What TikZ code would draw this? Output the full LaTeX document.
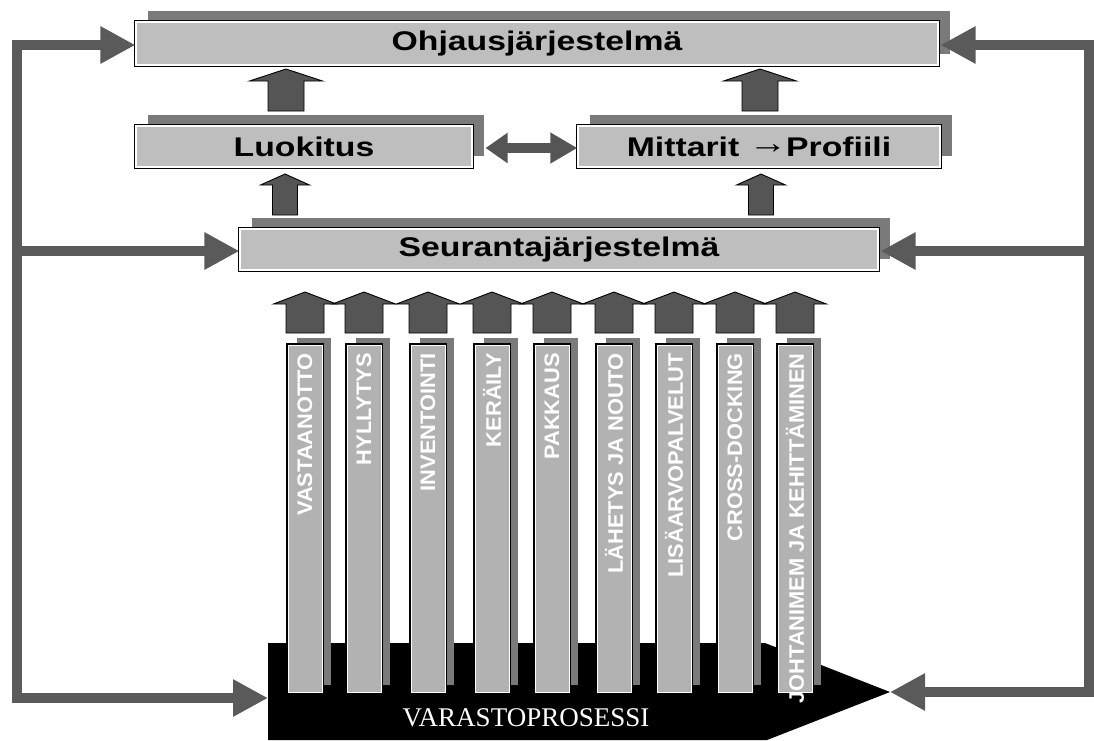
\documentclass[tikz,border=0pt]{standalone}
\usepackage{fontspec}
\usepackage{graphicx}
\setmainfont{Liberation Sans}
\newfontfamily\serifface{Liberation Serif}
\usetikzlibrary{arrows.meta,shadows}

\definecolor{boxgray}{HTML}{BEBEBE}
\definecolor{colgray}{HTML}{B2B2B2}
\definecolor{shadegray}{HTML}{7A7A7A}
\definecolor{arrowgray}{HTML}{555555}
\definecolor{linegray}{HTML}{5A5A5A}

\tikzset{
  x=1pt, y=-1pt,
  panel/.style={fill=boxgray, draw=white, line width=1.1pt, inner sep=0pt,
    drop shadow={shadow xshift=12pt, shadow yshift=11pt, fill=shadegray, opacity=1},
    preaction={draw=black, line width=3.6pt},
    font=\fontsize{27}{27}\selectfont\bfseries, text=black},
  colbar/.style={fill=colgray, draw=white, line width=1pt, inner sep=0pt,
    minimum width=34pt, minimum height=347pt,
    drop shadow={shadow xshift=9pt, shadow yshift=7pt, fill=shadegray, opacity=1},
    preaction={draw=black, line width=3.4pt}},
  coltext/.style={text=white, font=\fontsize{21}{21}\selectfont\bfseries, inner sep=0pt},
  blockarrow/.style={fill=arrowgray, draw=black, line width=0.9pt, line join=miter},
  bus/.style={draw=linegray, line width=10pt, -{Triangle[length=35pt,width=35pt]}},
  busline/.style={draw=linegray, line width=10pt, line cap=rect},
  dblarrow/.style={draw=arrowgray, line width=10pt,
    {Triangle[length=22pt,width=29pt]}-{Triangle[length=27pt,width=29pt]}},
  pics/blockup/.style n args={4}{code={%
    % #1 length, #2 half shaft width, #3 half head width, #4 head length
    \filldraw[blockarrow] ({-#2},0) -- ({-#2},{-#1+#4}) -- ({-#3},{-#1+#4})
      -- (0,{-#1}) -- ({#3},{-#1+#4}) -- ({#2},{-#1+#4}) -- ({#2},0) -- cycle;}}
}

\begin{document}
\begin{tikzpicture}
\useasboundingbox[fill=white] (0,0) rectangle (1094,740);

% warehouse process base
\fill[black] (268,643) -- (765,643) -- (890,692) -- (767,740) -- (268,740) -- cycle;
\coordinate (vin) at (268,698);
\coordinate (vinr) at (890,692);
\node[text=white, font=\serifface\fontsize{27}{27}\selectfont, inner sep=0pt] (var) at (526,718) {VARASTOPROSESSI};

% upper panels
\node[panel, minimum width=802pt, minimum height=43pt] (ohj) at (537,43.5)
  {\scalebox{1.25}[1]{Ohjausjärjestelmä}};
\node[panel, minimum width=336pt, minimum height=41pt] (luo) at (304,146.5)
  {\scalebox{1.25}[1]{Luokitus}};
\node[panel, minimum width=362pt, minimum height=41pt] (mit) at (759,146.5)
  {\scalebox{1.25}[1]{Mittarit \raisebox{2.5pt}{\fontsize{31}{31}\selectfont →}\kern-1pt Profiili}};
\node[panel, minimum width=638pt, minimum height=41pt] (seu) at (559,249.5)
  {\scalebox{1.25}[1]{Seurantajärjestelmä}};

% upward block arrows between panels
\pic at (286,111) {blockup={42}{18}{36.5}{12}};
\pic at (760,111) {blockup={42}{18}{36.5}{12}};
\pic at (285,215) {blockup={41}{12.5}{24.5}{11}};
\pic at (761,215) {blockup={41}{12.5}{24.5}{11}};

\draw[dblarrow] ([xshift=13pt,yshift=-1.5pt]luo.east) -- ([yshift=-1.5pt]mit.west);

% process columns
\foreach \lx/\name/\txt in {
  288/c1/VASTAANOTTO,
  347/c2/HYLLYTYS,
  411/c3/INVENTOINTI,
  475/c4/KERÄILY,
  535/c5/PAKKAUS,
  597/c6/LÄHETYS JA NOUTO,
  657/c7/LISÄARVOPALVELUT,
  718/c8/CROSS-DOCKING,
  778/c9/JOHTANIMEM JA KEHITTÄMINEN} {
  \node[colbar] (\name) at (\lx+17,518.5) {};
  \node[coltext, rotate=90, anchor=east] (\name-t) at (\lx+17,353) {\scalebox{1.04}[1]{\txt}};
  \pic at (\lx+17,333) {blockup={41}{19}{31.5}{12}};
}

% feedback lines
\coordinate (lt) at (17,45);
\coordinate (lm) at (17,251);
\coordinate (lb) at (17,698);
\coordinate (rt) at (1089,45);
\coordinate (rm) at (1089,251);
\coordinate (rb) at (1089,692);

\draw[busline] (lt) -- (lb);
\draw[busline] (rt) -- (rb);
\draw[bus] (lt) -- (lt -| ohj.west);
\draw[bus] (lm) -- (lm -| seu.west);
\draw[bus] (lb) -- (vin);
\draw[bus] (rt) -- ([xshift=2pt]rt -| ohj.east);
\draw[bus] (rm) -- ([xshift=2pt]rm -| seu.east);
\draw[bus] (rb) -- (vinr);
\end{tikzpicture}
\end{document}
